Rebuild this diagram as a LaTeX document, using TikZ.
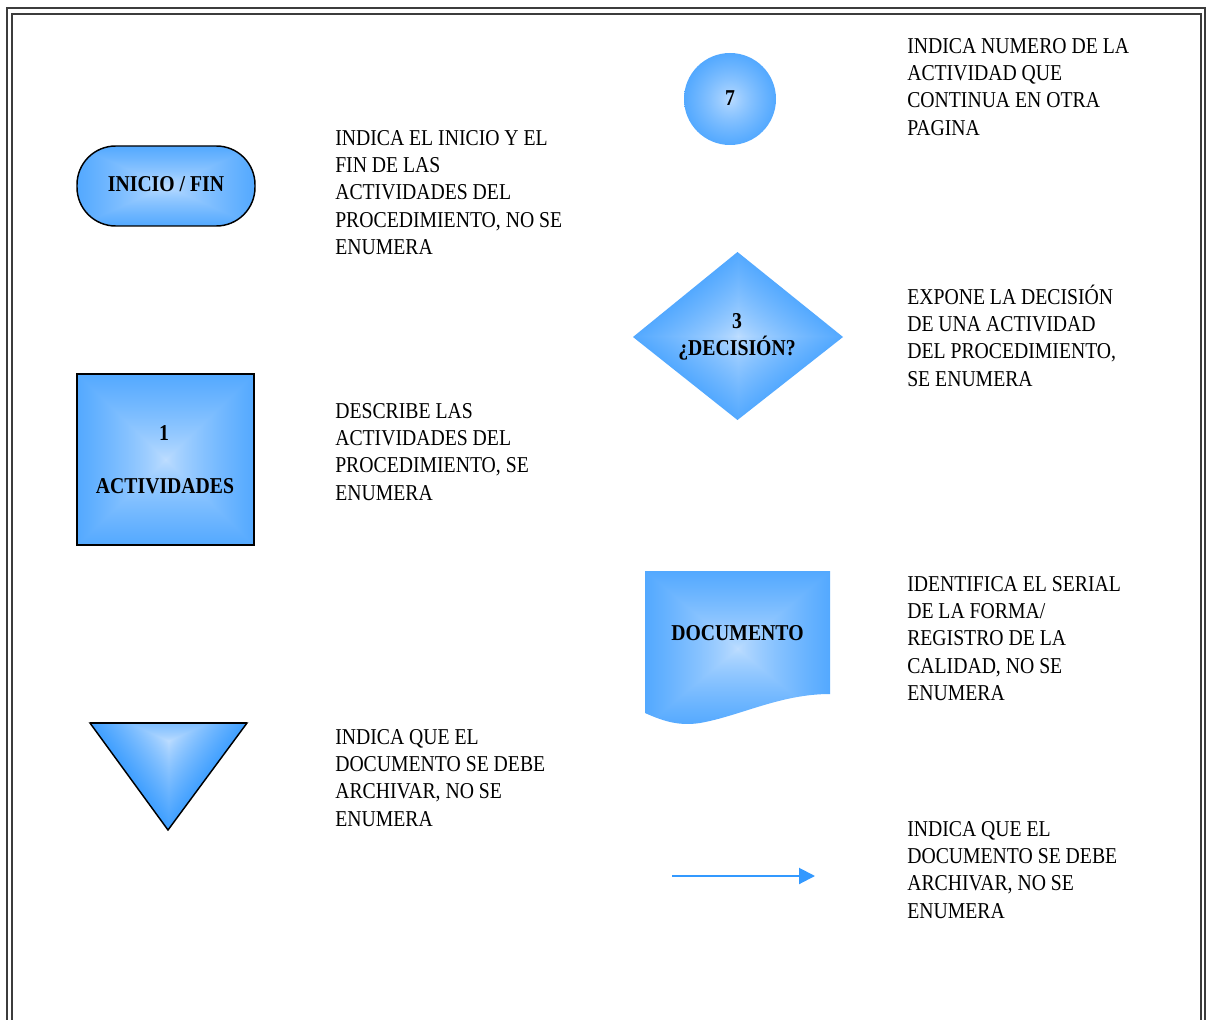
\documentclass[tikz,border=0pt]{standalone}
\usepackage{fontspec}
\setmainfont{Liberation Serif}
\newfontfamily\descfont[FakeStretch=0.87]{Liberation Serif}
\usetikzlibrary{arrows.meta}

% Fill gradients: light blue in the middle, saturated blue at the outline.
% Each function maps (x,y) to a ramp value t (clamped to 1, eased), then to rgb.
% The factor 1.4142 makes the ramp end on the path outline.
\pgfdeclarefunctionalshading{boxfade}{\pgfpoint{-50bp}{-50bp}}{\pgfpoint{50bp}{50bp}}{}{
  abs exch abs 2 copy sub abs add add 2 div 50 div 1.4142 mul
  dup 1 sub abs neg add 1 add 2 div 0.75 exp
  dup -0.55 mul 0.75 add exch -0.27 mul 0.87 add 1
}
\pgfdeclarefunctionalshading{roundfade}{\pgfpoint{-50bp}{-50bp}}{\pgfpoint{50bp}{50bp}}{}{
  dup mul exch dup mul add sqrt 50 div 1.4142 mul
  dup 1 sub abs neg add 1 add 2 div 0.75 exp
  dup -0.55 mul 0.75 add exch -0.27 mul 0.87 add 1
}
\pgfdeclarefunctionalshading{rhombfade}{\pgfpoint{-50bp}{-50bp}}{\pgfpoint{50bp}{50bp}}{}{
  abs exch abs add 50 div 1.4142 mul
  dup 1 sub abs neg add 1 add 2 div 0.75 exp
  dup -0.55 mul 0.75 add exch -0.27 mul 0.87 add 1
}
\pgfdeclarefunctionalshading{trifade}{\pgfpoint{-50bp}{-50bp}}{\pgfpoint{50bp}{50bp}}{}{
  exch abs 2 mul 1 index sub 16.67 add exch 2 mul 33.33 sub
  2 copy sub abs add add 2 div 66.67 div 1.4142 mul
  dup 1 sub abs neg add 1 add 2 div 0.75 exp
  dup -0.55 mul 0.75 add exch -0.27 mul 0.87 add 1
}

\definecolor{flowblue}{RGB}{51,153,255}
\definecolor{framegray}{RGB}{60,60,60}

\tikzset{
  outline/.style={draw=black, line width=1.1pt},
  termbox/.style={rectangle, rounded corners=29pt, minimum width=133.5pt,
    minimum height=60pt, inner sep=0pt, outline, shade, shading=boxfade},
  actbox/.style={rectangle, minimum width=132.75pt, minimum height=128.25pt,
    inner sep=0pt, outline, shade, shading=boxfade},
  linkdot/.style={circle, minimum size=69pt, inner sep=0pt, shade, shading=roundfade},
  lbl/.style={font=\descfont\bfseries\fontsize{17}{20.5}\selectfont,
    inner sep=0pt, anchor=base},
  desc/.style={font=\descfont\fontsize{17}{20.5}\selectfont, align=left,
    anchor=north west, inner sep=0pt, yshift=17pt},
  flow/.style={draw=flowblue, line width=1.5pt,
    -{Triangle[length=12pt,width=12pt]}},
}

\newcommand{\firstline}{\rule{0pt}{17pt}}

\begin{document}
\begin{tikzpicture}[x=0.75pt, y=-0.75pt]
  \clip (0,0) rectangle (1207,1020);
  \fill[white] (0,0) rectangle (1207,1020);

  % double frame
  \draw[framegray, line width=1.5pt] (7,8.3) rectangle (1205,1040);
  \draw[framegray, line width=1.5pt] (12,14.3) rectangle (1200.5,1040);

  % ---- left column ----
  \node[termbox] (inicio) at (166,186) {};
  \node[lbl] (inicio-t) at (166,192) {INICIO / FIN};

  \node[actbox] (act) at (165.5,459.5) {};
  \node[lbl] (act-n) at (164,440) {1};
  \node[lbl] (act-t) at (165,493) {ACTIVIDADES};

  \coordinate (arch-l) at (90,723);
  \coordinate (arch-r) at (247,723);
  \coordinate (arch-b) at (168,830);
  \path[outline, shade, shading=trifade] (arch-l) -- (arch-r) -- (arch-b) -- cycle;
  \draw[black, line width=1.6pt] (arch-l) -- (arch-r);

  \node[desc] (d-inicio) at (335,145) {\firstline INDICA EL INICIO Y EL\\FIN DE LAS\\ACTIVIDADES DEL\\PROCEDIMIENTO, NO SE\\ENUMERA};
  \node[desc] (d-act) at (335,418) {\firstline DESCRIBE LAS\\ACTIVIDADES DEL\\PROCEDIMIENTO, SE\\ENUMERA};
  \node[desc] (d-arch) at (335,744) {\firstline INDICA QUE EL\\DOCUMENTO SE DEBE\\ARCHIVAR, NO SE\\ENUMERA};

  % ---- right column ----
  \node[linkdot] (link) at (730,99) {};
  \node[lbl] (link-t) at (730,106) {7};

  \coordinate (dec-n) at (737.5,252);
  \coordinate (dec-e) at (843,337);
  \coordinate (dec-s) at (737.5,420);
  \coordinate (dec-w) at (633,337);
  \path[shade, shading=rhombfade] (dec-n) -- (dec-e) -- (dec-s) -- (dec-w) -- cycle;
  \node[lbl] (dec-n-t) at (737,328) {3};
  \node[lbl] (dec-t) at (737,355) {¿DECISIÓN?};

  \path[shade, shading=boxfade] (645,571) -- (830,571) -- (830,694)
    .. controls (780,694) and (740,716) .. (700,723)
    .. controls (680,726) and (665,722) .. (645,713) -- cycle;
  \node[lbl] (doc-t) at (737.5,640) {DOCUMENTO};

  \coordinate (flow-a) at (672,876);
  \coordinate (flow-b) at (815,876);
  \draw[flow] (flow-a) -- (flow-b);

  \node[desc] (d-link) at (907,53) {\firstline INDICA NUMERO DE LA\\ACTIVIDAD QUE\\CONTINUA EN OTRA\\PAGINA};
  \node[desc] (d-dec) at (907,304) {\firstline EXPONE LA DECISIÓN\\DE UNA ACTIVIDAD\\DEL PROCEDIMIENTO,\\SE ENUMERA};
  \node[desc] (d-doc) at (907,591) {\firstline IDENTIFICA EL SERIAL\\DE LA FORMA/\\REGISTRO DE LA\\CALIDAD, NO SE\\ENUMERA};
  \node[desc] (d-flow) at (907,836) {\firstline INDICA QUE EL\\DOCUMENTO SE DEBE\\ARCHIVAR, NO SE\\ENUMERA};
\end{tikzpicture}
\end{document}
